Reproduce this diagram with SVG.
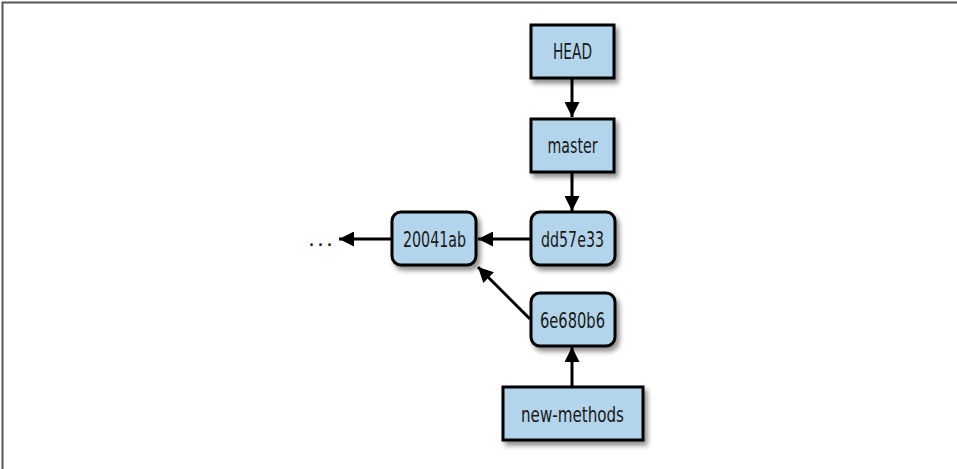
<svg xmlns="http://www.w3.org/2000/svg" width="957" height="469" viewBox="0 0 957 469">
<defs>
<filter id="sh" x="-20%" y="-20%" width="150%" height="160%">
<feGaussianBlur in="SourceAlpha" stdDeviation="2.5"/>
<feOffset dx="3" dy="4" result="b"/>
<feComponentTransfer><feFuncA type="linear" slope="0.45"/></feComponentTransfer>
<feMerge><feMergeNode/><feMergeNode in="SourceGraphic"/></feMerge>
</filter>
<marker id="ah" viewBox="0 0 10 10" refX="10" refY="5" markerWidth="5" markerHeight="5" orient="auto" markerUnits="strokeWidth">
<path d="M0,0 L10,5 L0,10 Z" fill="#000"/>
</marker>
</defs>
<style>
.box{fill:#b3d5eb;stroke:#000;stroke-width:3;filter:url(#sh)}
.lbl{font-family:"DejaVu Sans Condensed","Liberation Sans Narrow","Liberation Sans",sans-serif;font-stretch:condensed;font-size:22px;fill:#1a1a1a;text-anchor:middle;dominant-baseline:central}
.edge{stroke:#000;stroke-width:3;fill:none;marker-end:url(#ah)}
</style>
<rect width="957" height="469" fill="#fff"/>
<path d="M2.5,469 V2.5 H957" fill="none" stroke="#555" stroke-width="2"/>
<g id="connectors">
<line class="edge" x1="572" y1="78" x2="572" y2="117"/>
<line class="edge" x1="572" y1="172" x2="572" y2="211"/>
<line class="edge" x1="530" y1="239" x2="478" y2="239"/>
<line class="edge" x1="392" y1="239" x2="339" y2="239"/>
<line class="edge" x1="530" y1="319" x2="478" y2="267"/>
<line class="edge" x1="572" y1="386" x2="572" y2="347"/>
</g>
<g id="HEAD"><rect class="box" x="531" y="25" width="83" height="53"/><text class="lbl" x="572.5" y="51" textLength="39" lengthAdjust="spacingAndGlyphs">HEAD</text></g>
<g id="master"><rect class="box" x="531" y="119" width="83" height="53"/><text class="lbl" x="572.5" y="145.5" textLength="50" lengthAdjust="spacingAndGlyphs">master</text></g>
<g id="dd57e33"><rect class="box" x="531" y="212" width="84" height="53" rx="9"/><text class="lbl" x="572.5" y="239" textLength="63" lengthAdjust="spacingAndGlyphs">dd57e33</text></g>
<g id="c20041ab"><rect class="box" x="392" y="212" width="84" height="53" rx="9"/><text class="lbl" x="434.5" y="239" textLength="63" lengthAdjust="spacingAndGlyphs">20041ab</text></g>
<g id="c6e680b6"><rect class="box" x="531" y="293" width="84" height="53" rx="9"/><text class="lbl" x="572.5" y="320" textLength="65" lengthAdjust="spacingAndGlyphs">6e680b6</text></g>
<g id="new-methods"><rect class="box" x="503" y="387" width="140" height="53"/><text class="lbl" x="572.5" y="414" textLength="103" lengthAdjust="spacingAndGlyphs">new-methods</text></g>
<g id="ellipsis"><text x="308" y="246" style="font-family:'DejaVu Sans',sans-serif;font-size:22px;fill:#1a1a1a;letter-spacing:2px">...</text></g>
</svg>
